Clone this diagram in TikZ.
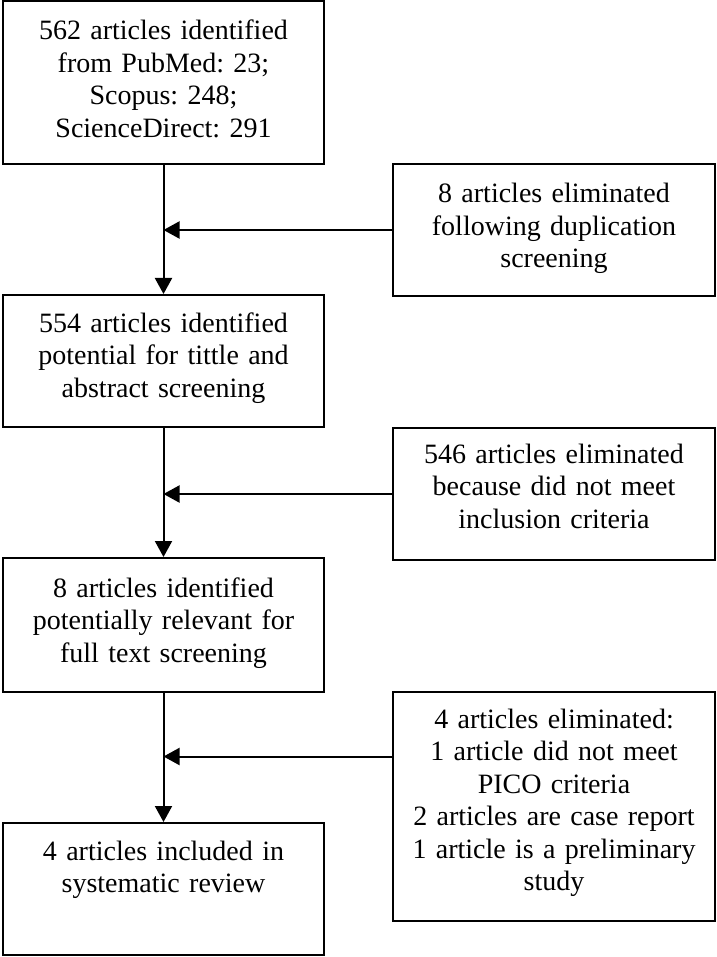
\documentclass[tikz,border=0pt]{standalone}
\usepackage{fontspec}
\setmainfont{Liberation Serif}
\frenchspacing
\usetikzlibrary{arrows.meta}

\tikzset{
  flowbox/.style={draw, line width=2pt, inner sep=0pt, text width=310pt, align=center,
    font=\fontsize{28}{32.5}\selectfont},
  leftbox/.style={flowbox, minimum width=321pt},
  rightbox/.style={flowbox, minimum width=322pt},
  flowarrow/.style={line width=2pt, -{Triangle[length=16pt, width=17pt]}}
}

\begin{document}
\begin{tikzpicture}[x=1pt, y=1pt]
          \useasboundingbox (0,0) rectangle (716,-957);

          \node[leftbox, text height=39pt, text depth=124pt] (found) at (163.5,-82.5)
            {562 articles identified\\ from PubMed: 23;\\ Scopus: 248;\\ ScienceDirect: 291};
          \node[leftbox, text height=37pt, text depth=95pt] (screen) at (163.5,-361)
            {554 articles identified\\ potential for tittle and\\ abstract screening};
          \node[leftbox, text height=39pt, text depth=95pt] (fulltext) at (163.5,-625)
            {8 articles identified\\ potentially relevant for\\ full text screening};
          \node[leftbox, text height=37pt, text depth=95pt] (included) at (163.5,-889)
            {4 articles included in\\ systematic review};

          \node[rightbox, text height=39pt, text depth=93pt] (dup) at (554,-230)
            {8 articles eliminated\\ following duplication\\ screening};
          \node[rightbox, text height=35pt, text depth=97pt] (incl) at (554,-494)
            {546 articles eliminated\\ because did not meet\\ inclusion criteria};
          \node[rightbox, text height=36pt, text depth=193pt] (pico) at (554,-806.5)
            {4 articles eliminated:\\ 1 article did not meet\\ PICO criteria\\ 2 articles are case report\\ 1 article is a preliminary\\ study};

          \draw[flowarrow] (found) -- (screen);
          \draw[flowarrow] (screen) -- (fulltext);
          \draw[flowarrow] (fulltext) -- (included);

          \coordinate (picoout) at ([yshift=50pt]pico.west);
          \draw[flowarrow] (dup.west) -- (dup.west -| found.south);
          \draw[flowarrow] (incl.west) -- (incl.west -| screen.south);
          \draw[flowarrow] (picoout) -- (picoout -| fulltext.south);
    \end{tikzpicture}
\end{document}
